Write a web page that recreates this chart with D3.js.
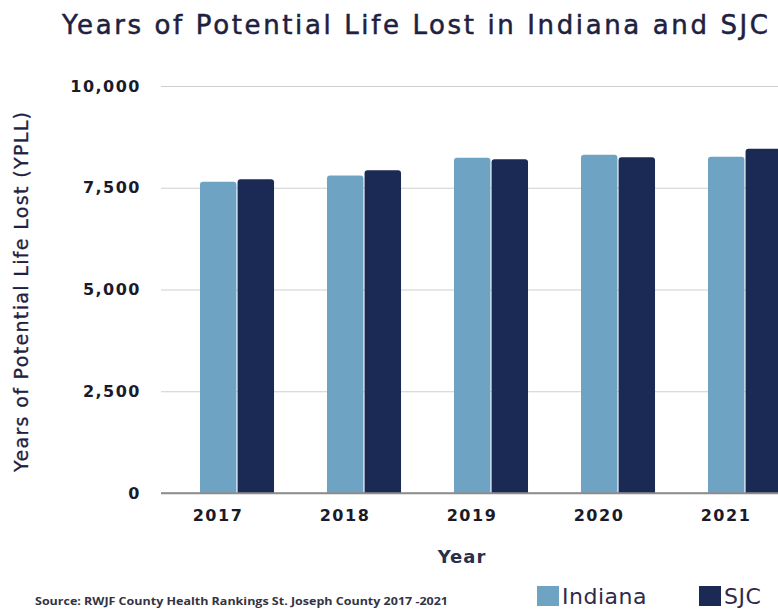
<!DOCTYPE html>
<html>
<head>
<meta charset="utf-8">
<script src="https://cdn.jsdelivr.net/npm/d3@7"></script>
<style>
  html, body { margin: 0; padding: 0; background: #ffffff; overflow: hidden; }
  svg { display: block; }
</style>
</head>
<body>
<svg id="chart" width="778" height="609"></svg>
<script>
// YPLL per 100,000 population, County Health Rankings
const years = ["2017", "2018", "2019", "2020", "2021"];
const seriesNames = ["Indiana", "SJC"];
const indianaValues = [7650, 7800, 8240, 8310, 8260];
const sjcValues = [7710, 7930, 8200, 8250, 8460];
const yTicks = [0, 2500, 5000, 7500, 10000];
const colors = ["#6fa3c3", "#1b2955"];

const svg = d3.select("#chart");
const W = 778, H = 609;
const margin = { left: 161, top: 86, bottom: 116 };
const plotRight = 821;           // plot area runs past the right edge
const y0 = H - margin.bottom;    // baseline

const rows = years.map((yr, i) => ({ year: yr, values: [indianaValues[i], sjcValues[i]] }));

const x = d3.scaleBand()
  .domain(years)
  .range([margin.left, plotRight])
  .paddingInner(0.417)
  .paddingOuter(0.307);

const xInner = d3.scaleBand()
  .domain(seriesNames)
  .range([0, x.bandwidth()])
  .paddingInner(0.03);

const y = d3.scaleLinear()
  .domain([0, 10000])
  .range([y0, margin.top]);

const color = d3.scaleOrdinal().domain(seriesNames).range(colors);

const textColor = "#1e2140";
const tickFont = "'DejaVu Sans', Verdana, sans-serif";
const sansFont = "'DejaVu Sans', Verdana, sans-serif";

// Title
svg.append("text")
  .attr("x", 62)
  .attr("y", 34)
  .attr("textLength", 706)
  .attr("lengthAdjust", "spacing")
  .style("font-family", sansFont)
  .style("font-size", "26px")
  .style("fill", textColor)
  .style("stroke", textColor)
  .style("stroke-width", "0.5px")
  .text("Years of Potential Life Lost in Indiana and SJC");

// Horizontal grid + y tick labels
const yAxis = d3.axisLeft(y)
  .tickValues(yTicks)
  .tickSize(-(plotRight - margin.left))
  .tickPadding(20)
  .tickFormat(d3.format(","));

const gy = svg.append("g")
  .attr("transform", `translate(${margin.left},0)`)
  .call(yAxis);
gy.select(".domain").remove();
gy.selectAll(".tick line")
  .attr("stroke", d => d === 0 ? "#8c8c8c" : "#cfcfcf")
  .attr("stroke-width", d => d === 0 ? 1.5 : 1);
gy.selectAll(".tick text")
  .style("font-family", tickFont)
  .style("font-weight", "700")
  .style("font-size", "16px")
  .style("letter-spacing", "1.5px")
  .style("fill", "#1a1a2a");

// Bars
const groups = svg.append("g")
  .selectAll("g")
  .data(rows)
  .join("g")
  .attr("transform", d => `translate(${x(d.year)},0)`);

const r = 3;
groups.selectAll("path")
  .data(d => d.values.map((v, i) => ({ key: seriesNames[i], value: v })))
  .join("path")
  .attr("fill", d => color(d.key))
  .attr("d", d => {
    const x0 = xInner(d.key), w = xInner.bandwidth();
    const top = y(d.value), bot = y(0);
    return `M${x0},${bot}V${top + r}Q${x0},${top} ${x0 + r},${top}H${x0 + w - r}Q${x0 + w},${top} ${x0 + w},${top + r}V${bot}Z`;
  });

// Baseline drawn over bars
svg.append("line")
  .attr("x1", margin.left).attr("x2", plotRight)
  .attr("y1", y0).attr("y2", y0)
  .attr("stroke", "#8c8c8c").attr("stroke-width", 1.5);

// X axis labels
const xAxis = d3.axisBottom(x).tickSize(0).tickPadding(17);
const gx = svg.append("g")
  .attr("transform", `translate(0,${y0})`)
  .call(xAxis);
gx.select(".domain").remove();
gx.selectAll(".tick text")
  .attr("dx", -19)
  .style("font-family", tickFont)
  .style("font-weight", "700")
  .style("font-size", "16px")
  .style("letter-spacing", "1.5px")
  .style("fill", "#1a1a2a");

// Axis titles
svg.append("text")
  .attr("x", 462)
  .attr("y", 563)
  .attr("text-anchor", "middle")
  .style("font-family", tickFont)
  .style("font-weight", "700")
  .style("font-size", "18px")
  .style("letter-spacing", "1px")
  .style("fill", "#2a2f4a")
  .text("Year");

svg.append("text")
  .attr("transform", "translate(28,292) rotate(-90)")
  .attr("text-anchor", "middle")
  .attr("textLength", 360)
  .attr("lengthAdjust", "spacing")
  .style("font-family", sansFont)
  .style("font-size", "19px")
  .style("fill", textColor)
  .style("stroke", textColor)
  .style("stroke-width", "0.3px")
  .text("Years of Potential Life Lost (YPLL)");

// Source note
svg.append("text")
  .attr("x", 35)
  .attr("y", 605)
  .attr("textLength", 413)
  .attr("lengthAdjust", "spacingAndGlyphs")
  .style("font-family", "'Open Sans', sans-serif")
  .style("font-weight", "700")
  .style("font-size", "10px")
  .style("fill", "#333344")
  .text("Source: RWJF County Health Rankings St. Joseph County 2017 -2021");

// Legend
const legendX = [537, 699];
const legend = svg.append("g")
  .selectAll("g")
  .data(seriesNames)
  .join("g")
  .attr("transform", (d, i) => `translate(${legendX[i]},586)`);
legend.append("rect")
  .attr("width", 22).attr("height", 20)
  .attr("fill", d => color(d));
legend.append("text")
  .attr("x", 25)
  .attr("y", 18)
  .style("font-family", sansFont)
  .style("font-size", "22px")
  .style("letter-spacing", "0.5px")
  .style("fill", "#2e2a4a")
  .text(d => d);
</script>
</body>
</html>
